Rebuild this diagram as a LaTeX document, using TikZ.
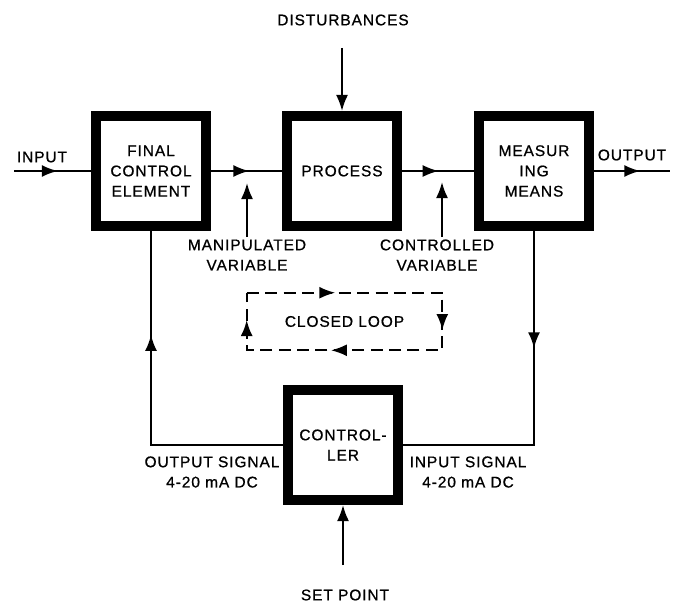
\documentclass[tikz,border=0pt]{standalone}
\usepackage{fontspec}
\setmainfont{Liberation Sans}[LetterSpace=6, FakeBold=0.8]
\usetikzlibrary{arrows.meta, decorations.markings}

\newcommand{\diagfont}{\fontsize{11}{14.4}\selectfont}

\begin{document}
\begin{tikzpicture}[x=0.025cm, y=-0.025cm,
        block/.style={rectangle, draw, line width=0.25cm, minimum size=2.75cm, inner sep=0pt, text centered, align=center, font=\diagfont},
        lbl/.style={align=center, font=\diagfont, inner sep=1.5pt},
        sig/.style={line width=1.5pt},
        arrow/.style={sig, -{Latex[length=0.4cm, width=0.3cm]}},
        midarrow/.style={sig, postaction={decorate}, decoration={markings, mark=at position #1 with {\arrow{Latex[length=0.4cm, width=0.3cm]}}}},
        loopline/.style={sig, dash pattern=on 0.3cm off 0.16cm, postaction={decorate}, decoration={markings,
            mark=at position 0.175 with {\arrow{Latex[length=0.4cm, width=0.3cm]}},
            mark=at position 0.46 with {\arrow{Latex[length=0.4cm, width=0.3cm]}},
            mark=at position 0.72 with {\arrow{Latex[length=0.4cm, width=0.3cm]}},
            mark=at position 0.946 with {\arrow{Latex[length=0.4cm, width=0.3cm]}}}}
    ]
        \useasboundingbox (0,0) rectangle (675,604);

        \node[block] (fce) at (151,171) {FINAL\\CONTROL\\ELEMENT};
        \node[block] (proc) at (342,171) {PROCESS};
        \node[block] (meas) at (534,171) {MEASUR\\ING\\MEANS};
        \node[block] (ctrl) at (343,445) {CONTROL-\\LER};

        \node[lbl] (dist) at (343,20) {DISTURBANCES};
        \node[lbl] (in) at (42,157) {INPUT};
        \node[lbl] (out) at (632,155) {OUTPUT};
        \node[lbl] (manip) at (247,255) {MANIPULATED\\VARIABLE};
        \node[lbl] (contr) at (437,255) {CONTROLLED\\VARIABLE};
        \node[lbl] (osig) at (212,472) {OUTPUT SIGNAL\\4-20 mA DC};
        \node[lbl] (isig) at (468,472) {INPUT SIGNAL\\4-20 mA DC};
        \node[lbl] (setp) at (345,595) {SET POINT};
        \node[lbl, minimum width=4.875cm, minimum height=1.425cm] (loop) at (344.5,321.5) {CLOSED LOOP};

        \coordinate (src) at (14,171);
        \coordinate (sink) at (670,171);
        \coordinate (dtop) at (342,48);
        \coordinate (mv) at (247,183);
        \coordinate (cv) at (442,182);
        \coordinate (sptail) at (343,565);

        % main path
        \draw[midarrow=0.57] (src) -- (fce.west);
        \draw[midarrow=0.54] (fce.east) -- (proc.west);
        \draw[midarrow=0.51] (proc.east) -- (meas.west);
        \draw[midarrow=0.61] (meas.east) -- (sink);
        \draw[arrow] (dtop) -- (proc.north);
        \draw[arrow] (manip.north) -- (mv);
        \draw[arrow] (cv |- contr.north) -- (cv);

        % feedback
        \draw[midarrow=0.70] (ctrl.west) -| (fce.south);
        \draw[midarrow=0.34] (meas.south) |- (ctrl.east);
        \draw[arrow] (sptail) -- (ctrl.south);

        \draw[loopline] (loop.north west) -- (loop.north east) -- (loop.south east) -- (loop.south west) -- cycle;

    \end{tikzpicture}
\end{document}
